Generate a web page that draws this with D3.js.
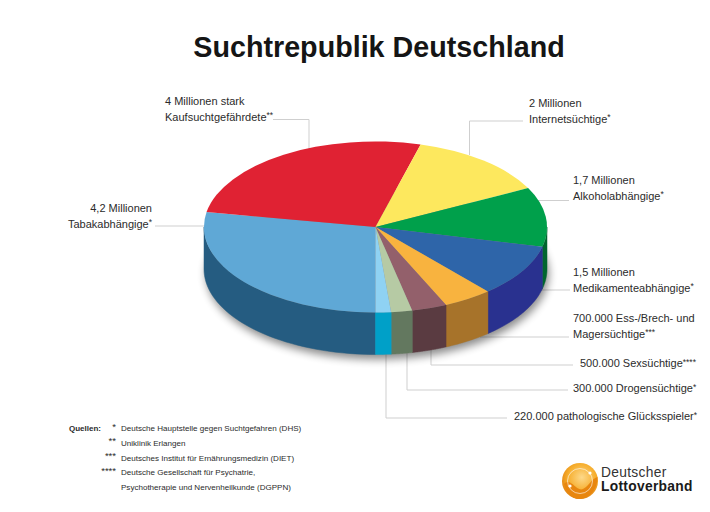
<!DOCTYPE html>
<html>
<head>
<meta charset="utf-8">
<style>
	html, body { margin: 0; padding: 0; background: #fff; }
	svg { display: block; }
	text { font-family: "Liberation Sans", Arial, sans-serif; fill: #2b2b2b; }
</style>
</head>
<body>
<svg width="710" height="512"></svg>
<script src="https://d3js.org/d3.v7.min.js"></script>
<script>
// values in millions
var categories = ["Tabak", "Kaufsucht", "Internet", "Alkohol", "Medikamente", "Essstoerung", "Sex", "Drogen", "Gluecksspiel"]
var values = [4.2, 4, 2, 1.7, 1.5, 0.7, 0.5, 0.3, 0.22]
var topColors = ["#5fa8d6", "#e02233", "#fde85e", "#00a04b", "#2e65a9", "#f8b33f", "#93606b", "#b6caa4", "#8fd2f3"]
var sideColors = ["#255c81", "#a81824", "#b8a53e", "#00652f", "#29318f", "#a7732a", "#5a3b41", "#63785f", "#00a0c8"]

var labels = [
	{lines: ["4 Millionen stark", "Kaufsuchtgefährdete**"], x: 165, y: 105, anchor: "start"},
	{lines: ["4,2 Millionen", "Tabakabhängige*"], x: 152, y: 212, anchor: "end"},
	{lines: ["2 Millionen", "Internetsüchtige*"], x: 529, y: 107, anchor: "start"},
	{lines: ["1,7 Millionen", "Alkoholabhängige*"], x: 573, y: 184, anchor: "start"},
	{lines: ["1,5 Millionen", "Medikamenteabhängige*"], x: 573, y: 276, anchor: "start"},
	{lines: ["700.000 Ess-/Brech- und", "Magersüchtige***"], x: 573, y: 322, anchor: "start"},
	{lines: ["500.000 Sexsüchtige****"], x: 580, y: 367, anchor: "start"},
	{lines: ["300.000 Drogensüchtige*"], x: 573, y: 392, anchor: "start"},
	{lines: ["220.000 pathologische Glücksspieler*"], x: 514, y: 420, anchor: "start"}
]
var leaders = [
	[[273, 119.5], [309, 119.5], [309, 150]],
	[[155, 226], [208, 226]],
	[[523, 121], [469.5, 121], [469.5, 155]],
	[[569, 200.5], [530, 200.5]],
	[[570, 290], [540, 290]],
	[[569, 337], [480, 337]],
	[[573, 365], [431, 365], [431, 345]],
	[[568, 390], [407, 390], [407, 350]],
	[[507, 418], [386, 418], [386, 352]]
]
var sourceMarks = ["*", "**", "***", "****"]
var sources = [
	"Deutsche Hauptstelle gegen Suchtgefahren (DHS)",
	"Uniklinik Erlangen",
	"Deutsches Institut für Ernährungsmedizin (DIET)",
	"Deutsche Gesellschaft für Psychatrie,",
	"Psychotherapie und Nervenheilkunde (DGPPN)"
]

var svg = d3.select("svg")
var defs = svg.append("defs")

var depth = 42
var x = d3.scaleLinear().domain([-1, 1]).range([204, 547])
var y = d3.scaleLinear().domain([-1, 1]).range([141.5, 312.5])

defs.append("filter").attr("id", "soft").attr("x", "-20%").attr("y", "-20%").attr("width", "140%").attr("height", "140%")
	.append("feGaussianBlur").attr("stdDeviation", 4)

var logoGrad = defs.append("radialGradient").attr("id", "logoGrad").attr("cx", "0.55").attr("cy", "0.4").attr("r", "0.65")
logoGrad.append("stop").attr("offset", "0").attr("stop-color", "#fdd98a")
logoGrad.append("stop").attr("offset", "0.6").attr("stop-color", "#f6ad2c")
logoGrad.append("stop").attr("offset", "1").attr("stop-color", "#de7c0c")

// leader lines go under the pie
svg.append("g").selectAll("path").data(leaders).enter().append("path")
	.attr("d", d3.line())
	.attr("fill", "none")
	.attr("stroke", "#cfcfcf")
	.attr("stroke-width", 1)

var ellipsePoint = function(a, dy) {
	return [x(Math.sin(a)), y(-Math.cos(a)) + dy]
}

// shadow
svg.append("ellipse")
	.attr("cx", x(0) + 2).attr("cy", y(0) + depth + 5)
	.attr("rx", (x(1) - x(-1)) / 2).attr("ry", (y(1) - y(-1)) / 2)
	.attr("fill", "#000").attr("opacity", 0.45)
	.attr("filter", "url(#soft)")

var pie = d3.pie().sort(null).startAngle(Math.PI).endAngle(3 * Math.PI)
var slices = pie(values).map(function(d, i) { d.i = i; return d })

// side walls, only the parts facing the front
var line = d3.line()
svg.append("g").selectAll("path").data(slices.filter(function(d) {
		return d.startAngle < 1.5 * Math.PI || d.endAngle > 2.5 * Math.PI
	})).enter().append("path")
	.attr("d", function(d) {
		var a0 = d.startAngle, a1 = d.endAngle
		if (a0 < 1.5 * Math.PI) a1 = Math.min(a1, 1.5 * Math.PI)
		else a0 = Math.max(a0, 2.5 * Math.PI)
		var angles = d3.range(0, 41).map(function(k) { return a0 + (a1 - a0) * k / 40 })
		var top = angles.map(function(a) { return ellipsePoint(a, 0) })
		var bottom = angles.slice().reverse().map(function(a) { return ellipsePoint(a, depth) })
		return line(top.concat(bottom)) + "Z"
	})
	.attr("fill", function(d) { return sideColors[d.i] })
	.attr("stroke", function(d) { return sideColors[d.i] })
	.attr("stroke-width", 0.5)

// top face
var arc = d3.arc().innerRadius(0).outerRadius(1)
svg.append("g")
	.attr("transform", "translate(" + x(0) + "," + y(0) + ") scale(" + (x(1) - x(0)) + "," + (y(1) - y(0)) + ")")
	.selectAll("path").data(slices).enter().append("path")
	.attr("d", arc)
	.attr("fill", function(d) { return topColors[d.i] })

// title
svg.append("text").attr("x", 379).attr("y", 57).attr("text-anchor", "middle")
	.style("font-size", "28.7px").style("font-weight", "bold").style("fill", "#151515")
	.text("Suchtrepublik Deutschland")

// labels, the trailing stars are set smaller and raised
labels.forEach(function(l) {
	l.lines.forEach(function(t, k) {
		var stars = t.match(/\*+$/)
		var txt = svg.append("text").attr("x", l.x).attr("y", l.y + k * 15.5)
			.attr("text-anchor", l.anchor)
			.style("font-size", "11px")
		txt.append("tspan").text(stars ? t.slice(0, -stars[0].length) : t)
		if (stars) txt.append("tspan").attr("dy", -2.5).style("font-size", "8.5px").text(stars[0])
	})
})

// sources
var srcY = d3.scalePoint().domain(d3.range(5)).range([431, 490])
svg.append("text").attr("x", 69).attr("y", 431).style("font-size", "8px").style("font-weight", "bold").text("Quellen:")
sources.forEach(function(s, i) {
	svg.append("text").attr("x", 121).attr("y", srcY(i)).style("font-size", "8.05px").text(s)
})
sourceMarks.forEach(function(m, i) {
	svg.append("text").attr("x", 116).attr("y", srcY(i) - 1.5).attr("text-anchor", "end").style("font-size", "9.5px").text(m)
})

// logo
var logo = svg.append("g").attr("transform", "translate(580,481)")
logo.append("circle").attr("r", 18).attr("fill", "url(#logoGrad)")
logo.append("path").attr("d", "M-16,3 C-9,-4 -4,11 3,8 C9,5 11,-2 17.5,-4 C18,8 9,18 -1,18 C-8,18 -14,11 -16,3Z").attr("fill", "#e8860f")
logo.append("circle").attr("r", 12.5).attr("fill", "none").attr("stroke", "#fff").attr("stroke-opacity", 0.6).attr("stroke-width", 1)
logo.append("circle").attr("cx", -10).attr("cy", 5).attr("r", 1.6).attr("fill", "#fff")
logo.append("circle").attr("cx", 10).attr("cy", -8).attr("r", 1.6).attr("fill", "#fff")
svg.append("text").attr("x", 601).attr("y", 476.5).style("font-size", "13.8px").style("letter-spacing", "0.3px").style("fill", "#333").text("Deutscher")
svg.append("text").attr("x", 601).attr("y", 490.5).style("font-size", "13.8px").style("letter-spacing", "0.3px").style("font-weight", "bold").style("fill", "#1a1a1a").text("Lottoverband")
</script>
</body>
</html>
